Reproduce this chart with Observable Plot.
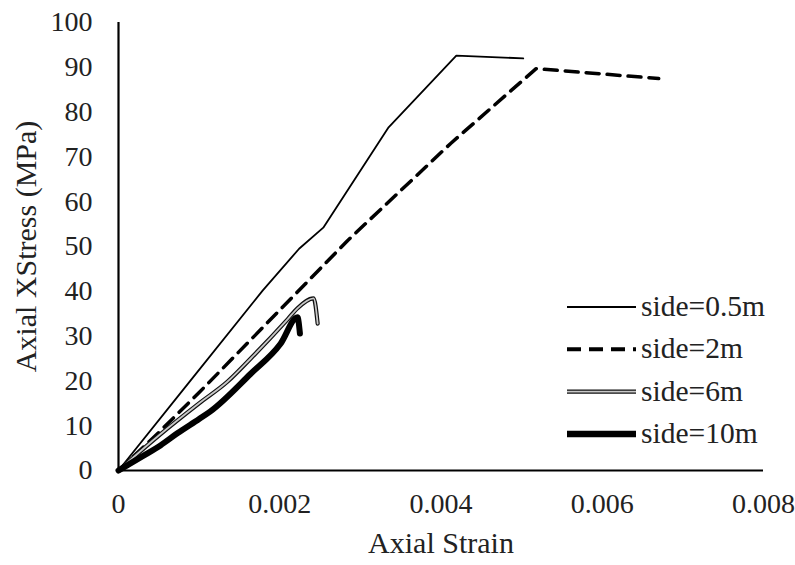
<!DOCTYPE html>
<html>
<head>
<meta charset="utf-8">
<script src="https://cdn.jsdelivr.net/npm/d3@7"></script>
<script src="https://cdn.jsdelivr.net/npm/@observablehq/plot@0.6"></script>
<style>
  html, body { margin: 0; padding: 0; background: #fff; }
  #wrap { position: relative; width: 795px; height: 565px; }
  #legend { position: absolute; left: 0; top: 0; pointer-events: none; }
</style>
</head>
<body>
<div id="wrap"></div>
<script>
// ---- data ----
const strain05 = [0, 0.00089, 0.00179, 0.00224, 0.00254, 0.00335, 0.00419, 0.00502];
const stress05 = [0, 20, 40.2, 49.5, 54.2, 76.6, 92.6, 92];

const strain2 = [0, 0.0005, 0.001, 0.002, 0.00284, 0.00412, 0.00518, 0.0067];
const stress2 = [0, 8.5, 17.4, 35.8, 51.3, 73, 89.7, 87.5];

const strain6 = [0, 0.0005, 0.001, 0.00135, 0.00164, 0.0021, 0.00222, 0.00242, 0.00247];
const stress6 = [0, 7.8, 15, 19.8, 25, 33.8, 36.2, 38.4, 32.8];

const strain10 = [0, 0.0003, 0.00052, 0.00073, 0.001, 0.00114, 0.00164, 0.00201, 0.00222, 0.00225];
const stress10 = [0, 3.2, 5.6, 8.3, 11.5, 13.2, 21.6, 28.3, 34.2, 30.6];

const seriesNames = ["side=0.5m", "side=2m", "side=6m", "side=10m"];
const xTicks = [0, 0.002, 0.004, 0.006, 0.008];
const xTickLabels = ["0", "0.002", "0.004", "0.006", "0.008"];
const yTicks = [0, 10, 20, 30, 40, 50, 60, 70, 80, 90, 100];
const xTitle = "Axial Strain";
const yTitle = "Axial XStress (MPa)";

const toRows = (xs, ys, name) => xs.map((x, i) => ({x, y: ys[i], name}));
const d05 = toRows(strain05, stress05, seriesNames[0]);
const d2 = toRows(strain2, stress2, seriesNames[1]);
const d6 = toRows(strain6, stress6, seriesNames[2]);
const d10 = toRows(strain10, stress10, seriesNames[3]);

const FONT = "'Liberation Serif', 'Times New Roman', serif";

const chart = Plot.plot({
  width: 795,
  height: 565,
  marginLeft: 118,
  marginRight: 32,
  marginTop: 22,
  marginBottom: 95,
  style: {fontFamily: FONT, fontSize: "28px", color: "#222", background: "#fff"},
  x: {domain: [0, 0.008]},
  y: {domain: [0, 100]},
  marks: [
    Plot.axisX({ticks: xTicks, tickSize: 0, tickPadding: 23, tickFormat: (d) => xTickLabels[xTicks.indexOf(d)],
      fontSize: 28, label: null}),
    Plot.axisX({ticks: [], tickSize: 0, fontSize: 30, label: xTitle, labelAnchor: "center", labelArrow: "none", labelOffset: 82}),
    Plot.axisY({ticks: yTicks, tickSize: 0, tickPadding: 26, fontSize: 28, label: null}),
    Plot.axisY({ticks: [], tickSize: 0, fontSize: 30,
      label: yTitle, labelAnchor: "center", labelArrow: "none", labelOffset: 104}),
    Plot.line(d2, {x: "x", y: "y", stroke: "#000", strokeWidth: 3.5, strokeDasharray: "13,8"}),
    Plot.line(d05, {x: "x", y: "y", stroke: "#000", strokeWidth: 1.8}),
    Plot.line(d6, {x: "x", y: "y", stroke: "#111", strokeWidth: 4.2, strokeLinejoin: "miter", curve: "monotone-x"}),
    Plot.line(d6, {x: "x", y: "y", stroke: "#c8c8c8", strokeWidth: 1.8, strokeLinejoin: "miter", curve: "monotone-x"}),
    Plot.line(d10, {x: "x", y: "y", stroke: "#000", strokeWidth: 6, strokeLinejoin: "round", strokeLinecap: "round", curve: "monotone-x"}),
    Plot.ruleX([0], {y1: 0, y2: 100, stroke: "#000", strokeWidth: 2.2}),
    Plot.ruleY([0], {x1: 0, x2: 0.008, stroke: "#000", strokeWidth: 2.2})
  ]
});

const wrap = document.getElementById("wrap");
wrap.appendChild(chart);

// ---- legend overlay ----
const legendStyles = [
  {layers: [{stroke: "#000", width: 1.8}]},
  {layers: [{stroke: "#000", width: 4, dash: "14,8"}]},
  {layers: [{stroke: "#111", width: 4.2}, {stroke: "#c8c8c8", width: 1.8}]},
  {layers: [{stroke: "#000", width: 6.5}]}
];
const lg = d3.select(wrap).append("svg")
  .attr("id", "legend").attr("width", 795).attr("height", 565);
const rows = lg.selectAll("g").data(seriesNames).join("g")
  .attr("transform", (d, i) => `translate(567,${307 + i * 42.3})`);
rows.each(function(d, i) {
  const g = d3.select(this);
  legendStyles[i].layers.forEach(l => {
    g.append("line").attr("x1", 0).attr("x2", 69).attr("y1", 0).attr("y2", 0)
      .attr("stroke", l.stroke).attr("stroke-width", l.width)
      .attr("stroke-dasharray", l.dash || null);
  });
  g.append("text").attr("x", 74).attr("y", 9).text(d)
    .attr("font-family", FONT).attr("font-size", 29.5).attr("fill", "#222");
});
</script>
</body>
</html>
